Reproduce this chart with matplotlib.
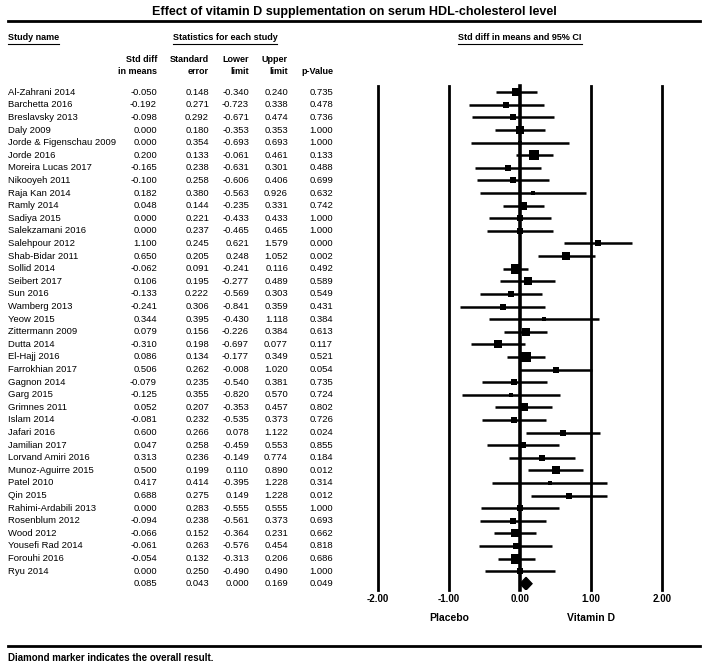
"""Forest plot: effect of vitamin D supplementation on serum HDL-cholesterol"""

import matplotlib
matplotlib.use("Agg")
import matplotlib.pyplot as plt
from matplotlib.transforms import blended_transform_factory
from matplotlib.patches import Polygon

plt.rcParams["font.family"] = ["Liberation Sans", "DejaVu Sans"]

# study data
STUDIES = ["Al-Zahrani 2014", "Barchetta 2016", "Breslavsky 2013", "Daly 2009",
           "Jorde & Figenschau 2009", "Jorde 2016", "Moreira Lucas 2017", "Nikooyeh 2011",
           "Raja Kan 2014", "Ramly 2014", "Sadiya 2015", "Salekzamani 2016",
           "Salehpour 2012", "Shab-Bidar 2011", "Sollid 2014", "Seibert 2017",
           "Sun 2016", "Wamberg 2013", "Yeow 2015", "Zittermann 2009", "Dutta 2014",
           "El-Hajj 2016", "Farrokhian 2017", "Gagnon 2014", "Garg 2015",
           "Grimnes 2011", "Islam 2014", "Jafari 2016", "Jamilian 2017",
           "Lorvand Amiri 2016", "Munoz-Aguirre 2015", "Patel 2010", "Qin 2015",
           "Rahimi-Ardabili 2013", "Rosenblum 2012", "Wood 2012", "Yousefi Rad 2014",
           "Forouhi 2016", "Ryu 2014"]
SMD = [-0.050, -0.192, -0.098, 0.000, 0.000, 0.200, -0.165, -0.100, 0.182, 0.048,
       0.000, 0.000, 1.100, 0.650, -0.062, 0.106, -0.133, -0.241, 0.344, 0.079,
       -0.310, 0.086, 0.506, -0.079, -0.125, 0.052, -0.081, 0.600, 0.047, 0.313,
       0.500, 0.417, 0.688, 0.000, -0.094, -0.066, -0.061, -0.054, 0.000]
SE = [0.148, 0.271, 0.292, 0.180, 0.354, 0.133, 0.238, 0.258, 0.380, 0.144,
      0.221, 0.237, 0.245, 0.205, 0.091, 0.195, 0.222, 0.306, 0.395, 0.156,
      0.198, 0.134, 0.262, 0.235, 0.355, 0.207, 0.232, 0.266, 0.258, 0.236,
      0.199, 0.414, 0.275, 0.283, 0.238, 0.152, 0.263, 0.132, 0.250]
LOWER = [-0.340, -0.723, -0.671, -0.353, -0.693, -0.061, -0.631, -0.606, -0.563, -0.235,
         -0.433, -0.465, 0.621, 0.248, -0.241, -0.277, -0.569, -0.841, -0.430, -0.226,
         -0.697, -0.177, -0.008, -0.540, -0.820, -0.353, -0.535, 0.078, -0.459, -0.149,
         0.110, -0.395, 0.149, -0.555, -0.561, -0.364, -0.576, -0.313, -0.490]
UPPER = [0.240, 0.338, 0.474, 0.353, 0.693, 0.461, 0.301, 0.406, 0.926, 0.331,
         0.433, 0.465, 1.579, 1.052, 0.116, 0.489, 0.303, 0.359, 1.118, 0.384,
         0.077, 0.349, 1.020, 0.381, 0.570, 0.457, 0.373, 1.122, 0.553, 0.774,
         0.890, 1.228, 1.228, 0.555, 0.373, 0.231, 0.454, 0.206, 0.490]
PVAL = [0.735, 0.478, 0.736, 1.000, 1.000, 0.133, 0.488, 0.699, 0.632, 0.742,
        1.000, 1.000, 0.000, 0.002, 0.492, 0.589, 0.549, 0.431, 0.384, 0.613,
        0.117, 0.521, 0.054, 0.735, 0.724, 0.802, 0.726, 0.024, 0.855, 0.184,
        0.012, 0.314, 0.012, 1.000, 0.693, 0.662, 0.818, 0.686, 1.000]

# overall result
OVERALL = {"smd": 0.085, "se": 0.043, "lower": 0.000, "upper": 0.169, "p": 0.049}

X_TICKS = [-2, -1, 0, 1, 2]

W, H = 708, 666
fig = plt.figure(figsize=(W / 100, H / 100), dpi=100)

def fx(px):
    return px / W

def fy(py):
    return 1 - py / H

n = len(STUDIES)
# forest panel
ax = fig.add_axes([fx(378), fy(590), fx(662) - fx(378), fy(86) - fy(590)])
ax.set_xlim(-2, 2)
ax.set_ylim(n + 0.5, -0.5)
ax.axis("off")

for t in X_TICKS:
    ax.axvline(t, color="black", lw=2.6 if t == 0 else 2.0, zorder=1, clip_on=False)

for i in range(n):
    ax.plot([LOWER[i], UPPER[i]], [i, i], color="black", lw=1.8, zorder=2,
            solid_capstyle="butt")
    # box size grows with the study weight (random-effects style)
    ms = 1.27 / (SE[i] ** 2 + 0.02) ** 0.5
    ax.plot(SMD[i], i, marker="s", color="black", ms=ms, mew=0, zorder=3)

o = OVERALL
ax.add_patch(Polygon([(o["lower"], n), (o["smd"], n - 0.5), (o["upper"], n),
                      (o["smd"], n + 0.5)], closed=True, color="black", zorder=3))

for t in X_TICKS:
    fig.text(fx(378 + (t + 2) * 71), fy(599), f"{t:.2f}", ha="center", va="center",
             fontsize=7, fontweight="bold")
fig.text(fx(449), fy(618), "Placebo", ha="center", va="center", fontsize=7.5, fontweight="bold")
fig.text(fx(591), fy(618), "Vitamin D", ha="center", va="center", fontsize=7.5, fontweight="bold")

# table text, rows aligned to the forest panel
tr = blended_transform_factory(fig.transFigure, ax.transData)
cols = [157, 209, 249, 288, 333]
for i in range(n):
    fig.text(fx(8), i, STUDIES[i], transform=tr, ha="left", va="center", fontsize=6.8)
    vals = [SMD[i], SE[i], LOWER[i], UPPER[i], PVAL[i]]
    for c, v in zip(cols, vals):
        fig.text(fx(c), i, f"{v:.3f}", transform=tr, ha="right", va="center", fontsize=6.8)
for c, v in zip(cols, [o["smd"], o["se"], o["lower"], o["upper"], o["p"]]):
    fig.text(fx(c), n, f"{v:.3f}", transform=tr, ha="right", va="center", fontsize=6.8)

# headers
fig.text(fx(354), fy(12), "Effect of vitamin D supplementation on serum HDL-cholesterol level",
         ha="center", va="center", fontsize=9, fontweight="bold")
fig.add_artist(plt.Line2D([fx(8), fx(700)], [fy(21), fy(21)], color="black", lw=2))
fig.add_artist(plt.Line2D([fx(8), fx(700)], [fy(646), fy(646)], color="black", lw=2))

SECTION_HEADS = [(8, "Study name", "left"), (225, "Statistics for each study", "center"),
                 (520, "Std diff in means and 95% CI", "center")]
for x, s, ha in SECTION_HEADS:
    fig.text(fx(x), fy(38), s, ha=ha, va="center", fontsize=6.5, fontweight="bold")

heads = [("Std diff", "in means"), ("Standard", "error"), ("Lower", "limit"),
         ("Upper", "limit"), ("", "p-Value")]
for c, (a, b) in zip(cols, heads):
    fig.text(fx(c), fy(60), a, ha="right", va="center", fontsize=6.5, fontweight="bold")
    fig.text(fx(c), fy(71), b, ha="right", va="center", fontsize=6.5, fontweight="bold")

fig.text(fx(8), fy(658), "Diamond marker indicates the overall result.", ha="left",
         va="center", fontsize=7, fontweight="bold")

# underline the section headers
fig.canvas.draw()
r = fig.canvas.get_renderer()
heads_text = [s for _, s, _ in SECTION_HEADS]
for t in fig.texts:
    if t.get_text() in heads_text:
        bb = t.get_window_extent(r)
        y = bb.y0 - 1
        fig.add_artist(plt.Line2D([bb.x0 / W, bb.x1 / W], [y / H, y / H], color="black", lw=0.8))

fig.savefig("out.png", dpi=100)
